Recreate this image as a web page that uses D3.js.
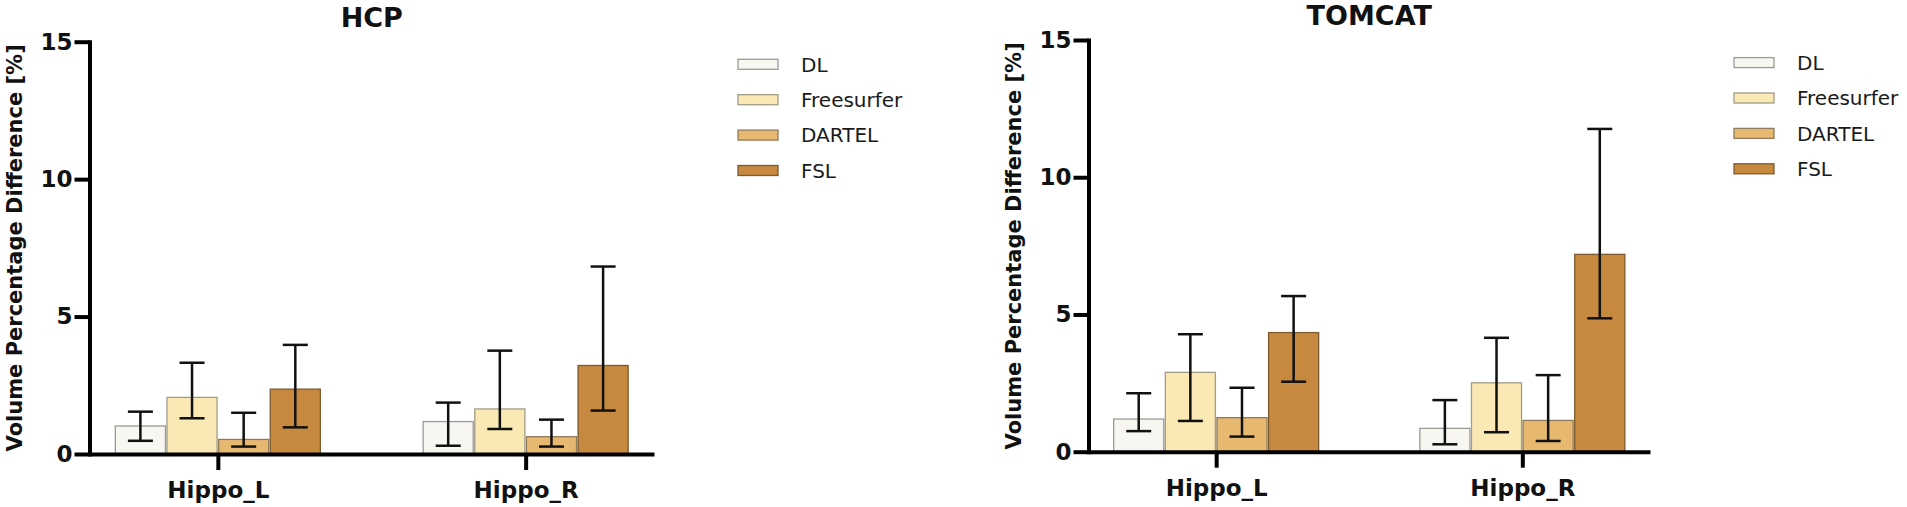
<!DOCTYPE html>
<html lang="en">
  <head>
    <meta charset="UTF-8" />
    <title>Volume Percentage Difference</title>
    <script src="https://d3js.org/d3.v7.min.js"></script>
    <style>
      html,
      body {
        margin: 0;
        padding: 0;
        background: #fff;
      }
      svg text {
        font-family: "DejaVu Sans", sans-serif;
      }
    </style>
  </head>
  <body>
    <svg id="chart" width="1907" height="507"></svg>
    <script>
      const categories = ["Hippo_L", "Hippo_R"];
      const methods = ["DL", "Freesurfer", "DARTEL", "FSL"];
      const yTicks = [0, 5, 10, 15];

      // rows = categories, columns = methods
      const hcpMean = [
        [1.02, 2.06, 0.53, 2.36],
        [1.18, 1.64, 0.63, 3.22],
      ];
      const hcpLow = [
        [0.48, 1.3, 0.27, 0.97],
        [0.3, 0.91, 0.27, 1.58],
      ];
      const hcpHigh = [
        [1.54, 3.32, 1.5, 3.97],
        [1.87, 3.76, 1.25, 6.82],
      ];

      const tomcatMean = [
        [1.19, 2.89, 1.24, 4.34],
        [0.85, 2.51, 1.14, 7.19],
      ];
      const tomcatLow = [
        [0.75, 1.12, 0.55, 2.55],
        [0.27, 0.71, 0.39, 4.86],
      ];
      const tomcatHigh = [
        [2.13, 4.28, 2.33, 5.67],
        [1.88, 4.15, 2.79, 11.76],
      ];

      const fills = ["#f8f6f0", "#fae9b5", "#e6b870", "#c6893f"];
      const strokes = ["#9a9a96", "#a09c88", "#8e7c5c", "#7a5a30"];

      const svg = d3.select("#chart");

      function drawPanel(opts) {
        const { title, left, right, top, bottom, mean, low, high } = opts;

        const y = d3.scaleLinear().domain([0, 15]).range([bottom, top]);
        const x = d3
          .scalePoint()
          .domain(categories)
          .range([left, right])
          .padding(0.417);
        const inner = d3
          .scaleBand()
          .domain(methods)
          .range([-102.5, 102.5])
          .paddingInner(0.03);

        const g = svg.append("g");

        // bars
        categories.forEach((cat, ci) => {
          const grp = g
            .append("g")
            .attr("transform", `translate(${x(cat)},0)`);

          grp
            .selectAll("rect")
            .data(methods)
            .join("rect")
            .attr("x", (m) => inner(m))
            .attr("width", inner.bandwidth())
            .attr("y", (m, i) => y(mean[ci][i]))
            .attr("height", (m, i) => y(0) - y(mean[ci][i]))
            .attr("fill", (m, i) => fills[i])
            .attr("stroke", (m, i) => strokes[i])
            .attr("stroke-width", 1.3);

          // error bars
          const capW = 12.5;
          const eb = grp
            .selectAll("g.err")
            .data(methods)
            .join("g")
            .attr("class", "err")
            .attr(
              "transform",
              (m) => `translate(${inner(m) + inner.bandwidth() / 2},0)`
            )
            .attr("stroke", "#111")
            .attr("stroke-width", 2.5);
          eb.append("line")
            .attr("y1", (m, i) => y(low[ci][i]))
            .attr("y2", (m, i) => y(high[ci][i]));
          eb.append("line")
            .attr("x1", -capW)
            .attr("x2", capW)
            .attr("y1", (m, i) => y(high[ci][i]))
            .attr("y2", (m, i) => y(high[ci][i]));
          eb.append("line")
            .attr("x1", -capW)
            .attr("x2", capW)
            .attr("y1", (m, i) => y(low[ci][i]))
            .attr("y2", (m, i) => y(low[ci][i]));
        });

        // x axis
        const xAxis = g
          .append("g")
          .attr("transform", `translate(0,${bottom})`)
          .call(d3.axisBottom(x).tickSize(16).tickSizeOuter(0).tickPadding(12));
        xAxis.select(".domain").attr("stroke", "#000").attr("stroke-width", 4);
        xAxis.selectAll(".tick line").attr("stroke", "#000").attr("stroke-width", 4);
        xAxis
          .selectAll(".tick text")
          .attr("fill", "#111")
          .style("font-size", "23px")
          .style("font-weight", "bold");

        // y axis
        const yAxis = g
          .append("g")
          .attr("transform", `translate(${left},0)`)
          .call(
            d3
              .axisLeft(y)
              .tickValues(yTicks)
              .tickSize(15)
              .tickSizeOuter(0)
              .tickPadding(2)
          );
        yAxis
          .select(".domain")
          .attr("stroke", "#000")
          .attr("stroke-width", 4)
          .attr("stroke-linecap", "square");
        yAxis.selectAll(".tick line").attr("stroke", "#000").attr("stroke-width", 4);
        yAxis
          .selectAll(".tick text")
          .attr("fill", "#111")
          .style("font-size", "23px")
          .style("font-weight", "bold");

        // y label
        g.append("text")
          .attr(
            "transform",
            `translate(${left - 68},${(top + bottom) / 2}) rotate(-90)`
          )
          .attr("text-anchor", "middle")
          .attr("fill", "#111")
          .style("font-size", "21px")
          .style("font-weight", "bold")
          .text("Volume Percentage Difference [%]");

        // title
        g.append("text")
          .attr("x", (left + right) / 2)
          .attr("y", top - 15)
          .attr("text-anchor", "middle")
          .attr("fill", "#111")
          .style("font-size", "27px")
          .style("font-weight", "bold")
          .text(title);

        // legend
        const lg = g
          .append("g")
          .attr("transform", `translate(${right + 84},${top + 17.6})`);
        const item = lg
          .selectAll("g")
          .data(methods)
          .join("g")
          .attr("transform", (m, i) => `translate(0,${i * 35.4})`);
        item
          .append("rect")
          .attr("width", 40)
          .attr("height", 10)
          .attr("fill", (m, i) => fills[i])
          .attr("stroke", (m, i) => strokes[i])
          .attr("stroke-width", 1.3);
        item
          .append("text")
          .attr("x", 63)
          .attr("y", 5)
          .attr("dy", "0.36em")
          .attr("fill", "#1a1a1a")
          .style("font-size", "20px")
          .text((m) => m);
      }

      drawPanel({
        title: "HCP",
        left: 89.5,
        right: 654,
        top: 41.7,
        bottom: 454,
        mean: hcpMean,
        low: hcpLow,
        high: hcpHigh,
      });

      drawPanel({
        title: "TOMCAT",
        left: 1088.5,
        right: 1650,
        top: 40,
        bottom: 451.7,
        mean: tomcatMean,
        low: tomcatLow,
        high: tomcatHigh,
      });
    </script>
  </body>
</html>
